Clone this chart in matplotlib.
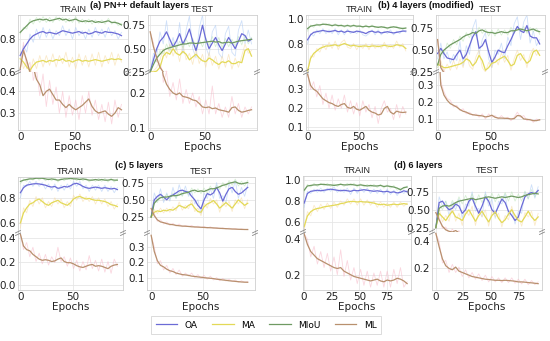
import matplotlib
matplotlib.use("Agg")
import matplotlib.pyplot as plt
from matplotlib.lines import Line2D

W, H = 550, 341

# epochs grid (every 3 epochs)
EP = list(range(0, 94, 3))      # 32 points
EP_B = list(range(0, 97, 3))    # 33 points, panel (b) ran a bit longer

# ---------------- (a) PN++ default layers ----------------
A_TR_OA = [0.70, 0.74, 0.77, 0.80, 0.82, 0.83, 0.84, 0.845, 0.835, 0.84, 0.835, 0.83, 0.84, 0.85, 0.845, 0.84,
           0.835, 0.84, 0.845, 0.835, 0.84, 0.83, 0.835, 0.845, 0.84, 0.835, 0.845, 0.84, 0.84, 0.835, 0.83, 0.82]
A_TR_MA = [0.68, 0.66, 0.63, 0.61, 0.64, 0.66, 0.665, 0.67, 0.66, 0.67, 0.665, 0.675, 0.67, 0.68, 0.665, 0.67,
           0.66, 0.67, 0.675, 0.665, 0.67, 0.665, 0.67, 0.675, 0.67, 0.665, 0.67, 0.675, 0.68, 0.675, 0.68, 0.675]
A_TR_MIOU = [0.84, 0.86, 0.88, 0.90, 0.91, 0.915, 0.92, 0.915, 0.92, 0.91, 0.915, 0.92, 0.925, 0.915, 0.92, 0.91,
             0.915, 0.92, 0.91, 0.905, 0.91, 0.905, 0.91, 0.90, 0.905, 0.90, 0.905, 0.91, 0.90, 0.90, 0.895, 0.885]
A_TR_ML = [0.62, 0.73, 0.67, 0.60, 0.51, 0.455, 0.43, 0.38, 0.40, 0.41, 0.385, 0.36, 0.36, 0.34, 0.325, 0.34,
           0.325, 0.315, 0.325, 0.335, 0.35, 0.365, 0.33, 0.31, 0.30, 0.305, 0.31, 0.295, 0.285, 0.30, 0.325, 0.315]
A_TR_OA_RAW = [0.66, 0.76, 0.72, 0.83, 0.78, 0.86, 0.80, 0.87, 0.81, 0.86, 0.80, 0.85, 0.82, 0.88, 0.82, 0.86,
               0.80, 0.87, 0.82, 0.85, 0.80, 0.86, 0.81, 0.87, 0.82, 0.86, 0.81, 0.87, 0.82, 0.85, 0.80, 0.84]
A_TR_MA_RAW = [0.72, 0.62, 0.66, 0.58, 0.68, 0.62, 0.70, 0.63, 0.70, 0.64, 0.71, 0.63, 0.70, 0.65, 0.72, 0.63,
               0.69, 0.62, 0.71, 0.64, 0.70, 0.63, 0.71, 0.64, 0.72, 0.63, 0.70, 0.65, 0.72, 0.64, 0.71, 0.66]
A_TR_MIOU_RAW = [0.83, 0.87, 0.86, 0.92, 0.89, 0.93, 0.90, 0.935, 0.90, 0.93, 0.90, 0.935, 0.91, 0.93, 0.90, 0.925,
                 0.90, 0.935, 0.895, 0.92, 0.895, 0.92, 0.89, 0.915, 0.895, 0.915, 0.89, 0.925, 0.89, 0.91, 0.88, 0.895]
A_TR_ML_RAW = [0.60, 0.78, 0.62, 0.66, 0.45, 0.50, 0.38, 0.48, 0.33, 0.45, 0.34, 0.42, 0.30, 0.40, 0.28, 0.38,
               0.29, 0.36, 0.27, 0.38, 0.30, 0.40, 0.29, 0.36, 0.27, 0.34, 0.26, 0.35, 0.25, 0.36, 0.28, 0.34]

A_TE_OA = [0.25, 0.38, 0.50, 0.58, 0.62, 0.68, 0.60, 0.52, 0.58, 0.66, 0.55, 0.62, 0.71, 0.58, 0.48, 0.60,
           0.75, 0.60, 0.50, 0.56, 0.62, 0.54, 0.48, 0.55, 0.62, 0.56, 0.50, 0.58, 0.66, 0.64, 0.58, 0.60]
A_TE_MA = [0.25, 0.25, 0.26, 0.30, 0.42, 0.46, 0.44, 0.50, 0.45, 0.43, 0.47, 0.44, 0.38, 0.41, 0.44, 0.40,
           0.37, 0.36, 0.40, 0.38, 0.35, 0.33, 0.36, 0.35, 0.37, 0.34, 0.34, 0.36, 0.35, 0.48, 0.50, 0.42]
A_TE_MIOU = [0.25, 0.33, 0.40, 0.44, 0.48, 0.50, 0.51, 0.52, 0.53, 0.54, 0.55, 0.55, 0.56, 0.56, 0.555, 0.56,
             0.565, 0.57, 0.575, 0.58, 0.57, 0.575, 0.56, 0.565, 0.57, 0.56, 0.57, 0.58, 0.585, 0.59, 0.595, 0.60]
A_TE_ML = [0.68, 0.52, 0.40, 0.30, 0.25, 0.225, 0.21, 0.20, 0.195, 0.20, 0.19, 0.188, 0.185, 0.18, 0.178, 0.17,
           0.16, 0.158, 0.16, 0.155, 0.157, 0.152, 0.15, 0.148, 0.145, 0.158, 0.16, 0.15, 0.145, 0.147, 0.15, 0.152]
A_TE_OA_RAW = [0.25, 0.45, 0.42, 0.68, 0.55, 0.80, 0.50, 0.62, 0.48, 0.78, 0.45, 0.70, 0.85, 0.50, 0.40, 0.72,
               0.86, 0.52, 0.42, 0.68, 0.75, 0.45, 0.40, 0.66, 0.74, 0.46, 0.42, 0.70, 0.80, 0.55, 0.70, 0.55]
A_TE_MA_RAW = [0.25, 0.26, 0.30, 0.38, 0.50, 0.40, 0.55, 0.42, 0.52, 0.36, 0.55, 0.38, 0.45, 0.33, 0.50, 0.34,
               0.44, 0.30, 0.46, 0.32, 0.42, 0.28, 0.42, 0.30, 0.44, 0.28, 0.40, 0.30, 0.42, 0.55, 0.45, 0.48]
A_TE_MIOU_RAW = [0.25, 0.38, 0.36, 0.48, 0.44, 0.55, 0.47, 0.57, 0.49, 0.58, 0.51, 0.60, 0.52, 0.61, 0.51, 0.60,
                 0.52, 0.62, 0.53, 0.63, 0.52, 0.62, 0.51, 0.61, 0.52, 0.60, 0.53, 0.63, 0.54, 0.64, 0.55, 0.62]
A_TE_ML_RAW = [0.68, 0.56, 0.36, 0.34, 0.23, 0.26, 0.19, 0.23, 0.18, 0.24, 0.17, 0.21, 0.17, 0.20, 0.16, 0.19,
               0.14, 0.18, 0.14, 0.22, 0.14, 0.17, 0.13, 0.16, 0.13, 0.19, 0.14, 0.17, 0.13, 0.16, 0.14, 0.16]

# ---------------- (b) 4 layers (modified) ----------------
B_TR_OA = [0.83, 0.87, 0.89, 0.895, 0.90, 0.905, 0.90, 0.895, 0.90, 0.905, 0.895, 0.90, 0.89, 0.90, 0.895, 0.89, 0.90,
           0.895, 0.89, 0.88, 0.895, 0.90, 0.89, 0.895, 0.885, 0.89, 0.895, 0.89, 0.885, 0.89, 0.895, 0.90, 0.90]
B_TR_MA = [0.58, 0.68, 0.72, 0.74, 0.76, 0.77, 0.78, 0.78, 0.785, 0.79, 0.78, 0.79, 0.80, 0.79, 0.78, 0.785, 0.78,
           0.775, 0.78, 0.78, 0.775, 0.78, 0.78, 0.775, 0.78, 0.785, 0.78, 0.775, 0.78, 0.79, 0.785, 0.78, 0.76]
B_TR_MIOU = [0.92, 0.94, 0.945, 0.95, 0.95, 0.955, 0.955, 0.95, 0.945, 0.95, 0.945, 0.945, 0.94, 0.945, 0.94, 0.945,
             0.94, 0.94, 0.935, 0.94, 0.935, 0.94, 0.935, 0.93, 0.935, 0.93, 0.925, 0.93, 0.935, 0.93, 0.925, 0.92,
             0.925]
B_TR_ML = [0.38, 0.32, 0.30, 0.29, 0.27, 0.25, 0.24, 0.23, 0.225, 0.215, 0.21, 0.22, 0.225, 0.205, 0.20, 0.21, 0.195,
           0.19, 0.20, 0.21, 0.19, 0.18, 0.175, 0.165, 0.17, 0.20, 0.21, 0.18, 0.17, 0.185, 0.18, 0.178, 0.18]
B_TR_OA_RAW = [0.80, 0.88, 0.86, 0.91, 0.88, 0.92, 0.88, 0.91, 0.88, 0.92, 0.87, 0.91, 0.87, 0.915, 0.88, 0.90,
               0.88, 0.91, 0.87, 0.86, 0.88, 0.91, 0.87, 0.91, 0.87, 0.90, 0.88, 0.91, 0.87, 0.90, 0.88, 0.91, 0.89]
B_TR_MA_RAW = [0.55, 0.70, 0.69, 0.76, 0.73, 0.79, 0.75, 0.81, 0.76, 0.82, 0.75, 0.81, 0.83, 0.77, 0.76, 0.80,
               0.75, 0.79, 0.76, 0.80, 0.75, 0.80, 0.76, 0.79, 0.76, 0.81, 0.76, 0.79, 0.76, 0.82, 0.77, 0.80, 0.74]
B_TR_MIOU_RAW = [0.90, 0.95, 0.93, 0.96, 0.94, 0.965, 0.945, 0.96, 0.935, 0.96, 0.935, 0.955, 0.93, 0.955, 0.93,
                 0.955, 0.93, 0.95, 0.925, 0.95, 0.925, 0.95, 0.925, 0.94, 0.925, 0.94, 0.915, 0.94, 0.925, 0.94,
                 0.915, 0.93, 0.92]
B_TR_ML_RAW = [0.38, 0.30, 0.34, 0.26, 0.32, 0.22, 0.28, 0.20, 0.27, 0.19, 0.25, 0.20, 0.27, 0.18, 0.24, 0.17,
               0.23, 0.16, 0.24, 0.18, 0.22, 0.15, 0.21, 0.12, 0.20, 0.24, 0.18, 0.20, 0.14, 0.22, 0.15, 0.21, 0.17]

B_TE_OA = [0.46, 0.52, 0.46, 0.41, 0.40, 0.39, 0.45, 0.50, 0.40, 0.45, 0.55, 0.65, 0.71, 0.52, 0.55, 0.62, 0.48,
           0.36, 0.42, 0.50, 0.48, 0.47, 0.55, 0.62, 0.70, 0.77, 0.72, 0.70, 0.78, 0.66, 0.64, 0.64, 0.57]
B_TE_MA = [0.34, 0.32, 0.30, 0.30, 0.31, 0.32, 0.33, 0.34, 0.36, 0.40, 0.38, 0.32, 0.36, 0.44, 0.38, 0.27, 0.30,
           0.35, 0.36, 0.39, 0.41, 0.43, 0.38, 0.32, 0.34, 0.44, 0.46, 0.40, 0.35, 0.38, 0.48, 0.50, 0.44]
B_TE_MIOU = [0.33, 0.45, 0.50, 0.53, 0.56, 0.58, 0.60, 0.62, 0.65, 0.67, 0.68, 0.70, 0.69, 0.72, 0.73, 0.71, 0.70,
             0.70, 0.69, 0.70, 0.71, 0.70, 0.70, 0.72, 0.72, 0.73, 0.74, 0.73, 0.72, 0.73, 0.74, 0.72, 0.71]
B_TE_ML = [0.62, 0.30, 0.24, 0.21, 0.19, 0.18, 0.17, 0.155, 0.145, 0.14, 0.13, 0.125, 0.122, 0.12, 0.118, 0.112,
           0.115, 0.122, 0.11, 0.105, 0.105, 0.104, 0.103, 0.10, 0.102, 0.12, 0.118, 0.10, 0.098, 0.095, 0.09, 0.09,
           0.095]
B_TE_OA_RAW = [0.40, 0.58, 0.40, 0.48, 0.35, 0.45, 0.38, 0.60, 0.32, 0.55, 0.45, 0.75, 0.85, 0.45, 0.62, 0.70,
               0.40, 0.30, 0.50, 0.45, 0.58, 0.40, 0.65, 0.55, 0.80, 0.88, 0.62, 0.82, 0.90, 0.58, 0.72, 0.55, 0.62]
B_TE_MA_RAW = [0.30, 0.38, 0.26, 0.34, 0.27, 0.38, 0.28, 0.40, 0.30, 0.46, 0.32, 0.28, 0.42, 0.50, 0.30, 0.25,
               0.36, 0.30, 0.42, 0.33, 0.47, 0.36, 0.44, 0.27, 0.40, 0.50, 0.38, 0.45, 0.30, 0.45, 0.52, 0.44, 0.50]
B_TE_MIOU_RAW = [0.30, 0.50, 0.45, 0.58, 0.52, 0.62, 0.56, 0.66, 0.60, 0.70, 0.64, 0.74, 0.66, 0.76, 0.69, 0.74,
                 0.66, 0.73, 0.66, 0.74, 0.67, 0.73, 0.67, 0.76, 0.69, 0.76, 0.71, 0.77, 0.69, 0.76, 0.71, 0.75, 0.68]
B_TE_ML_RAW = [0.62, 0.32, 0.26, 0.22, 0.21, 0.17, 0.18, 0.15, 0.16, 0.13, 0.14, 0.12, 0.13, 0.11, 0.13, 0.10,
               0.13, 0.11, 0.12, 0.10, 0.12, 0.10, 0.11, 0.09, 0.11, 0.14, 0.11, 0.12, 0.09, 0.10, 0.08, 0.10, 0.09]

# ---------------- (c) 5 layers ----------------
C_TR_OA = [0.84, 0.88, 0.90, 0.905, 0.91, 0.912, 0.91, 0.905, 0.90, 0.89, 0.885, 0.89, 0.875, 0.88, 0.89, 0.885,
           0.895, 0.91, 0.915, 0.905, 0.89, 0.88, 0.875, 0.88, 0.885, 0.88, 0.875, 0.88, 0.875, 0.87, 0.875, 0.865]
C_TR_MA = [0.60, 0.68, 0.72, 0.75, 0.76, 0.78, 0.79, 0.77, 0.75, 0.74, 0.76, 0.77, 0.78, 0.76, 0.75, 0.74,
           0.76, 0.79, 0.805, 0.81, 0.80, 0.79, 0.795, 0.785, 0.78, 0.78, 0.775, 0.77, 0.76, 0.745, 0.74, 0.73]
C_TR_MIOU = [0.93, 0.94, 0.945, 0.95, 0.95, 0.955, 0.955, 0.955, 0.95, 0.945, 0.95, 0.945, 0.94, 0.945, 0.95, 0.95,
             0.955, 0.95, 0.95, 0.945, 0.95, 0.945, 0.94, 0.94, 0.945, 0.94, 0.945, 0.94, 0.94, 0.945, 0.94, 0.94]
C_TR_ML = [0.43, 0.33, 0.30, 0.29, 0.26, 0.24, 0.22, 0.21, 0.215, 0.21, 0.20, 0.205, 0.22, 0.23, 0.20, 0.19,
           0.19, 0.18, 0.165, 0.155, 0.15, 0.16, 0.17, 0.175, 0.16, 0.165, 0.16, 0.15, 0.14, 0.16, 0.17, 0.175]
C_TR_OA_RAW = [0.80, 0.90, 0.89, 0.93, 0.89, 0.93, 0.89, 0.92, 0.87, 0.91, 0.86, 0.91, 0.85, 0.90, 0.86, 0.91,
               0.87, 0.93, 0.89, 0.93, 0.87, 0.90, 0.85, 0.90, 0.86, 0.90, 0.85, 0.90, 0.85, 0.89, 0.84, 0.88]
C_TR_MA_RAW = [0.56, 0.72, 0.68, 0.78, 0.73, 0.81, 0.75, 0.80, 0.72, 0.77, 0.73, 0.80, 0.75, 0.79, 0.72, 0.77,
               0.73, 0.82, 0.78, 0.83, 0.77, 0.81, 0.77, 0.81, 0.75, 0.80, 0.75, 0.79, 0.73, 0.77, 0.71, 0.75]
C_TR_MIOU_RAW = [0.91, 0.95, 0.93, 0.96, 0.94, 0.965, 0.94, 0.965, 0.935, 0.955, 0.935, 0.96, 0.925, 0.955, 0.935,
                 0.96, 0.94, 0.965, 0.935, 0.96, 0.935, 0.955, 0.925, 0.95, 0.93, 0.955, 0.93, 0.955, 0.925, 0.955,
                 0.925, 0.95]
C_TR_ML_RAW = [0.43, 0.30, 0.36, 0.24, 0.32, 0.20, 0.27, 0.18, 0.26, 0.17, 0.24, 0.19, 0.32, 0.20, 0.24, 0.16,
               0.23, 0.14, 0.21, 0.12, 0.20, 0.13, 0.25, 0.14, 0.21, 0.12, 0.22, 0.11, 0.20, 0.10, 0.22, 0.16]

C_TE_OA = [0.25, 0.50, 0.55, 0.58, 0.54, 0.50, 0.55, 0.57, 0.60, 0.63, 0.64, 0.62, 0.61, 0.55, 0.50, 0.42,
           0.37, 0.50, 0.59, 0.57, 0.60, 0.68, 0.60, 0.48, 0.58, 0.66, 0.68, 0.62, 0.58, 0.60, 0.64, 0.68]
C_TE_MA = [0.25, 0.32, 0.34, 0.33, 0.35, 0.34, 0.36, 0.35, 0.38, 0.42, 0.40, 0.38, 0.42, 0.44, 0.38, 0.33,
           0.32, 0.40, 0.44, 0.46, 0.49, 0.44, 0.38, 0.42, 0.46, 0.42, 0.38, 0.44, 0.50, 0.46, 0.42, 0.45]
C_TE_MIOU = [0.25, 0.45, 0.50, 0.53, 0.54, 0.54, 0.55, 0.56, 0.56, 0.57, 0.59, 0.60, 0.61, 0.63, 0.64, 0.62,
             0.63, 0.62, 0.64, 0.66, 0.66, 0.67, 0.69, 0.71, 0.72, 0.74, 0.75, 0.76, 0.74, 0.73, 0.74, 0.75]
C_TE_ML = [0.375, 0.27, 0.21, 0.18, 0.17, 0.155, 0.145, 0.14, 0.13, 0.125, 0.12, 0.118, 0.115, 0.11, 0.108, 0.105,
           0.103, 0.10, 0.098, 0.096, 0.094, 0.09, 0.088, 0.085, 0.083, 0.08, 0.078, 0.076, 0.074, 0.072, 0.071, 0.07]
C_TE_OA_RAW = [0.25, 0.60, 0.48, 0.66, 0.46, 0.60, 0.48, 0.68, 0.52, 0.72, 0.56, 0.70, 0.55, 0.62, 0.44, 0.50,
               0.30, 0.60, 0.52, 0.66, 0.52, 0.75, 0.52, 0.56, 0.45, 0.74, 0.60, 0.78, 0.52, 0.68, 0.55, 0.72]
C_TE_MA_RAW = [0.25, 0.36, 0.30, 0.38, 0.31, 0.38, 0.32, 0.40, 0.34, 0.47, 0.35, 0.42, 0.37, 0.50, 0.33, 0.38,
               0.27, 0.45, 0.38, 0.52, 0.44, 0.50, 0.32, 0.47, 0.40, 0.48, 0.33, 0.50, 0.44, 0.53, 0.37, 0.50]
C_TE_MIOU_RAW = [0.25, 0.50, 0.46, 0.57, 0.50, 0.58, 0.51, 0.60, 0.52, 0.61, 0.55, 0.64, 0.57, 0.67, 0.60, 0.66,
                 0.59, 0.67, 0.60, 0.70, 0.62, 0.71, 0.65, 0.75, 0.68, 0.78, 0.71, 0.80, 0.70, 0.77, 0.70, 0.78]
C_TE_ML_RAW = [0.375, 0.30, 0.19, 0.21, 0.15, 0.18, 0.13, 0.16, 0.12, 0.15, 0.11, 0.13, 0.11, 0.13, 0.10, 0.12,
               0.095, 0.115, 0.09, 0.11, 0.085, 0.10, 0.08, 0.095, 0.078, 0.09, 0.075, 0.085, 0.07, 0.08, 0.068, 0.075]

# ---------------- (d) 6 layers ----------------
D_TR_OA = [0.78, 0.87, 0.89, 0.895, 0.90, 0.895, 0.90, 0.905, 0.91, 0.905, 0.90, 0.895, 0.90, 0.895, 0.89, 0.90,
           0.895, 0.90, 0.905, 0.90, 0.895, 0.89, 0.895, 0.89, 0.885, 0.89, 0.88, 0.885, 0.875, 0.88, 0.895, 0.885]
D_TR_MA = [0.56, 0.66, 0.70, 0.72, 0.73, 0.735, 0.745, 0.75, 0.755, 0.76, 0.765, 0.775, 0.78, 0.79, 0.795, 0.795,
           0.79, 0.795, 0.79, 0.79, 0.785, 0.78, 0.77, 0.765, 0.77, 0.76, 0.765, 0.77, 0.765, 0.77, 0.775, 0.77]
D_TR_MIOU = [0.90, 0.94, 0.945, 0.95, 0.95, 0.955, 0.955, 0.95, 0.95, 0.945, 0.95, 0.955, 0.95, 0.95, 0.955, 0.95,
             0.945, 0.95, 0.945, 0.94, 0.945, 0.94, 0.94, 0.945, 0.935, 0.94, 0.935, 0.93, 0.92, 0.905, 0.925, 0.93]
D_TR_ML = [0.43, 0.37, 0.33, 0.31, 0.29, 0.28, 0.27, 0.26, 0.25, 0.24, 0.235, 0.24, 0.22, 0.21, 0.20, 0.19,
           0.185, 0.18, 0.175, 0.17, 0.165, 0.17, 0.175, 0.165, 0.16, 0.17, 0.165, 0.17, 0.18, 0.175, 0.165, 0.15]
D_TR_OA_RAW = [0.74, 0.89, 0.87, 0.91, 0.88, 0.92, 0.88, 0.92, 0.89, 0.93, 0.88, 0.91, 0.88, 0.92, 0.86, 0.92,
               0.87, 0.92, 0.88, 0.92, 0.87, 0.91, 0.87, 0.91, 0.86, 0.91, 0.86, 0.90, 0.85, 0.90, 0.87, 0.90]
D_TR_MA_RAW = [0.52, 0.70, 0.66, 0.76, 0.70, 0.77, 0.72, 0.78, 0.73, 0.79, 0.74, 0.80, 0.76, 0.82, 0.77, 0.82,
               0.76, 0.82, 0.76, 0.81, 0.76, 0.80, 0.74, 0.79, 0.74, 0.78, 0.74, 0.79, 0.74, 0.79, 0.75, 0.78]
D_TR_MIOU_RAW = [0.88, 0.955, 0.93, 0.965, 0.935, 0.965, 0.94, 0.965, 0.935, 0.96, 0.935, 0.965, 0.935, 0.965, 0.94,
                 0.965, 0.93, 0.96, 0.93, 0.955, 0.93, 0.955, 0.925, 0.955, 0.92, 0.95, 0.92, 0.945, 0.90, 0.92,
                 0.91, 0.94]
D_TR_ML_RAW = [0.43, 0.40, 0.30, 0.36, 0.26, 0.33, 0.24, 0.32, 0.22, 0.30, 0.20, 0.34, 0.19, 0.28, 0.17, 0.24,
               0.15, 0.23, 0.14, 0.22, 0.13, 0.21, 0.14, 0.22, 0.13, 0.22, 0.13, 0.23, 0.15, 0.24, 0.13, 0.16]

D_TE_OA = [0.25, 0.60, 0.62, 0.55, 0.50, 0.52, 0.58, 0.55, 0.45, 0.50, 0.62, 0.66, 0.55, 0.45, 0.55, 0.68,
           0.62, 0.50, 0.45, 0.55, 0.65, 0.60, 0.48, 0.42, 0.35, 0.40, 0.55, 0.68, 0.72, 0.74, 0.72, 0.77]
D_TE_MA = [0.25, 0.45, 0.40, 0.35, 0.42, 0.48, 0.40, 0.38, 0.35, 0.44, 0.50, 0.42, 0.34, 0.42, 0.48, 0.40,
           0.33, 0.42, 0.47, 0.38, 0.32, 0.36, 0.44, 0.50, 0.42, 0.35, 0.33, 0.40, 0.48, 0.40, 0.35, 0.40]
D_TE_MIOU = [0.25, 0.52, 0.55, 0.56, 0.55, 0.57, 0.60, 0.62, 0.63, 0.64, 0.65, 0.66, 0.64, 0.65, 0.66, 0.67,
             0.68, 0.67, 0.66, 0.67, 0.68, 0.67, 0.68, 0.69, 0.68, 0.67, 0.68, 0.70, 0.71, 0.72, 0.73, 0.72]
D_TE_ML = [0.46, 0.36, 0.27, 0.22, 0.20, 0.19, 0.21, 0.18, 0.17, 0.16, 0.15, 0.14, 0.135, 0.13, 0.125, 0.12,
           0.118, 0.115, 0.112, 0.112, 0.11, 0.112, 0.11, 0.108, 0.105, 0.10, 0.10, 0.098, 0.095, 0.093, 0.09, 0.087]
D_TE_OA_RAW = [0.25, 0.68, 0.55, 0.62, 0.42, 0.60, 0.50, 0.65, 0.38, 0.58, 0.55, 0.75, 0.48, 0.52, 0.40, 0.75,
               0.55, 0.65, 0.38, 0.62, 0.58, 0.72, 0.42, 0.50, 0.30, 0.48, 0.45, 0.75, 0.65, 0.85, 0.66, 0.82]
D_TE_MA_RAW = [0.25, 0.52, 0.33, 0.42, 0.34, 0.55, 0.34, 0.45, 0.28, 0.50, 0.42, 0.55, 0.28, 0.48, 0.40, 0.50,
               0.27, 0.48, 0.40, 0.45, 0.26, 0.42, 0.36, 0.55, 0.35, 0.42, 0.27, 0.46, 0.40, 0.48, 0.28, 0.45]
D_TE_MIOU_RAW = [0.25, 0.58, 0.50, 0.62, 0.50, 0.63, 0.55, 0.68, 0.58, 0.70, 0.60, 0.72, 0.58, 0.71, 0.60, 0.72,
                 0.62, 0.73, 0.61, 0.72, 0.62, 0.74, 0.62, 0.75, 0.62, 0.72, 0.62, 0.76, 0.65, 0.78, 0.68, 0.76]
D_TE_ML_RAW = [0.46, 0.40, 0.24, 0.26, 0.17, 0.23, 0.17, 0.21, 0.14, 0.19, 0.13, 0.17, 0.12, 0.16, 0.11, 0.15,
               0.10, 0.14, 0.10, 0.13, 0.095, 0.13, 0.095, 0.13, 0.09, 0.12, 0.085, 0.12, 0.08, 0.11, 0.08, 0.10]

NAMES = ["OA", "MA", "MIoU", "ML"]
COLORS = ["#6b6bd6", "#e3d957", "#6f9a62", "#b8906e"]
RAW_COLORS = ["#a9c8f5", "#f7d9a0", "#b9e3b5", "#f7b6c6"]
NARROW = ["Liberation Sans Narrow", "Liberation Sans", "DejaVu Sans"]

plt.rcParams['font.family'] = ['DejaVu Sans']
fig = plt.figure(figsize=(W / 100, H / 100), dpi=100)


def rect(x0, x1, y0, y1):
    return [x0 / W, 1 - y1 / H, (x1 - x0) / W, (y1 - y0) / H]


def style(ax, ylim, yticks, xlim, xticks):
    ax.set_xlim(*xlim)
    ax.set_ylim(*ylim)
    ax.set_yticks(yticks)
    ax.set_xticks(xticks)
    ax.grid(True, color="#e6e6e6", lw=0.6)
    ax.set_axisbelow(True)
    ax.tick_params(length=0, labelsize=7.5, pad=1.5, colors="#222222")
    for s in ax.spines.values():
        s.set_color("#cfcfcf")
        s.set_linewidth(0.6)


def break_marks(x0, x1, yb):
    for x in (x0, x1):
        for dy in (-1.3, 1.3):
            fig.add_artist(Line2D([(x - 2.5) / W, (x + 2.5) / W],
                                  [1 - (yb + dy + 1.2) / H, 1 - (yb + dy - 1.2) / H],
                                  color="#888888", lw=0.6))


def draw(box, ep, smooth, raw, top_lim, top_ticks, bot_lim, bot_ticks, xlim, xticks, name):
    x0, x1, y0, yb, y1 = box
    ax_t = fig.add_axes(rect(x0, x1, y0, yb))
    ax_b = fig.add_axes(rect(x0, x1, yb, y1))
    # upper part: all four curves
    for r, c in zip(raw, RAW_COLORS):
        ax_t.plot(ep, r, color=c, lw=0.6, alpha=0.55)
    for s, c in zip(smooth, COLORS):
        ax_t.plot(ep, s, color=c, lw=0.9)
    # lower part: loss only
    ax_b.plot(ep, raw[3], color=RAW_COLORS[3], lw=0.6, alpha=0.55)
    ax_b.plot(ep, smooth[3], color=COLORS[3], lw=0.9)
    style(ax_t, top_lim, top_ticks, xlim, xticks)
    style(ax_b, bot_lim, bot_ticks, xlim, xticks)
    ax_t.tick_params(labelbottom=False)
    ax_t.spines["bottom"].set_visible(False)
    ax_b.spines["top"].set_visible(False)
    ax_t.set_title(name, fontsize=6.5, pad=2.5, color="#222222", family=NARROW)
    ax_b.set_xlabel("Epochs", fontsize=7.5, labelpad=0, color="#222222")
    break_marks(x0, x1, yb)


# (a)
draw((18, 128, 15, 72, 130), EP, [A_TR_OA, A_TR_MA, A_TR_MIOU, A_TR_ML],
     [A_TR_OA_RAW, A_TR_MA_RAW, A_TR_MIOU_RAW, A_TR_ML_RAW],
     (0.6, 0.945), [0.6, 0.8], (0.222, 0.489), [0.3, 0.4], (-2, 99), [0, 50], "TRAIN")
draw((148, 257, 15, 72, 130), EP, [A_TE_OA, A_TE_MA, A_TE_MIOU, A_TE_ML],
     [A_TE_OA_RAW, A_TE_MA_RAW, A_TE_MIOU_RAW, A_TE_ML_RAW],
     (0.25, 0.86), [0.25, 0.5, 0.75], (0.094, 0.26), [0.1, 0.2], (-2, 98), [0, 50], "TEST")
# (b)
draw((306, 413, 15, 72, 130), EP_B, [B_TR_OA, B_TR_MA, B_TR_MIOU, B_TR_ML],
     [B_TR_OA_RAW, B_TR_MA_RAW, B_TR_MIOU_RAW, B_TR_ML_RAW],
     (0.57, 1.03), [0.6, 0.8, 1.0], (0.086, 0.391), [0.1, 0.2, 0.3], (-1.5, 103), [0, 50], "TRAIN")
draw((436, 545, 15, 72, 130), EP_B, [B_TE_OA, B_TE_MA, B_TE_MIOU, B_TE_ML],
     [B_TE_OA_RAW, B_TE_MA_RAW, B_TE_MIOU_RAW, B_TE_ML_RAW],
     (0.25, 0.90), [0.25, 0.5, 0.75], (0.035, 0.376), [0.1, 0.2, 0.3], (-1.5, 101), [0, 50], "TEST")
# (c)
draw((18, 123, 177, 233, 290), EP, [C_TR_OA, C_TR_MA, C_TR_MIOU, C_TR_ML],
     [C_TR_OA_RAW, C_TR_MA_RAW, C_TR_MIOU_RAW, C_TR_ML_RAW],
     (0.52, 0.965), [0.6, 0.8], (-0.04, 0.44), [0.0, 0.2, 0.4], (-2.3, 98.4), [0, 50], "TRAIN")
draw((147, 255, 177, 233, 290), EP, [C_TE_OA, C_TE_MA, C_TE_MIOU, C_TE_ML],
     [C_TE_OA_RAW, C_TE_MA_RAW, C_TE_MIOU_RAW, C_TE_ML_RAW],
     (0.02, 0.83), [0.25, 0.5, 0.75], (0.02, 0.39), [0.1, 0.2, 0.3], (-4, 100), [0, 50], "TEST")
# (d)
draw((303, 411, 176, 232, 290), EP, [D_TR_OA, D_TR_MA, D_TR_MIOU, D_TR_ML],
     [D_TR_OA_RAW, D_TR_MA_RAW, D_TR_MIOU_RAW, D_TR_ML_RAW],
     (0.51, 1.033), [0.6, 0.8, 1.0], (0.114, 0.44), [0.2, 0.4], (-1, 96.5), [0, 25, 50, 75], "TRAIN")
draw((432, 542, 176, 232, 290), EP, [D_TE_OA, D_TE_MA, D_TE_MIOU, D_TE_ML],
     [D_TE_OA_RAW, D_TE_MA_RAW, D_TE_MIOU_RAW, D_TE_ML_RAW],
     (0.19, 0.97), [0.25, 0.5, 0.75], (0.04, 0.47), [0.2, 0.4], (-3.5, 96.5), [0, 25, 50, 75], "TEST")

# panel titles
for text, cx, cy in [("(a) PN++ default layers", 139, 6), ("(b) 4 layers (modified)", 426, 6),
                     ("(c) 5 layers", 139, 166), ("(d) 6 layers", 418, 166)]:
    fig.text(cx / W, 1 - cy / H, text, ha="center", va="center", fontsize=6.6, fontweight="bold",
             color="#111111", family=NARROW)

handles = [Line2D([], [], color=c, lw=0.9) for c in COLORS]
leg = fig.legend(handles, NAMES, loc="center", bbox_to_anchor=(266 / W, 1 - 325 / H), ncol=4, fontsize=6.5,
                 frameon=True, handlelength=2.4, columnspacing=1.6, handletextpad=0.8, borderpad=0.5)
leg.get_frame().set_edgecolor("#cccccc")
leg.get_frame().set_linewidth(0.6)
leg.get_frame().set_boxstyle("square", pad=0)

fig.savefig("out.png", dpi=100)
